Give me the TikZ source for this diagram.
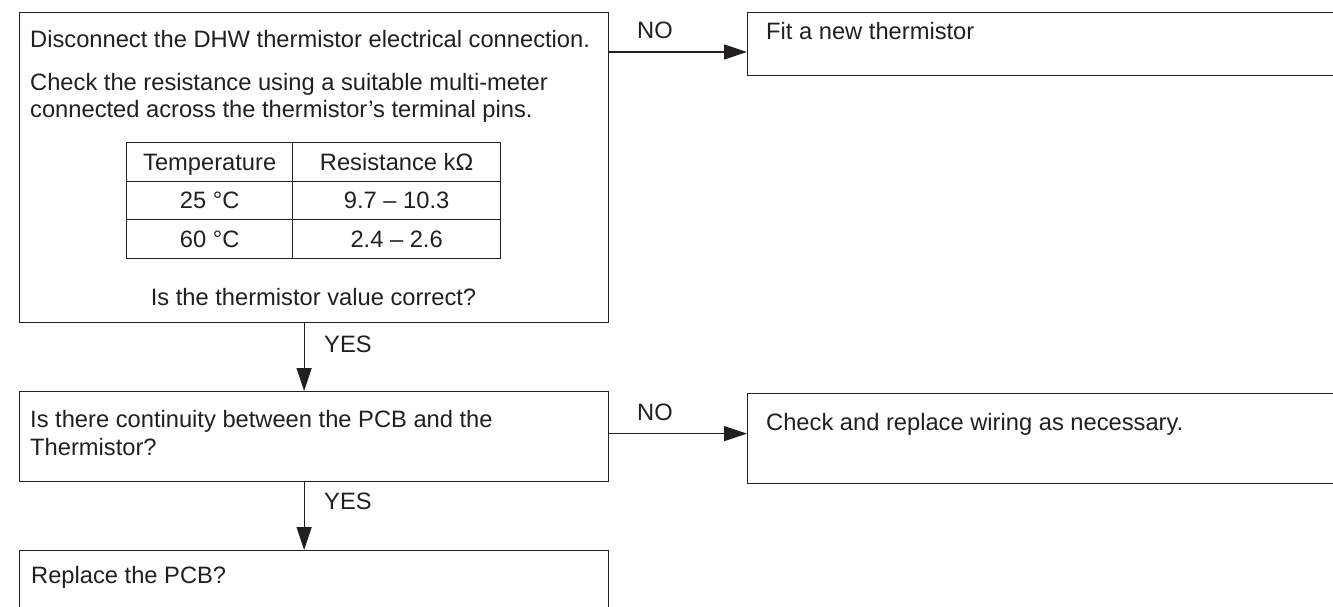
\documentclass[tikz,border=0pt]{standalone}
\usepackage{fontspec}
\setmainfont{Liberation Sans}
\usepackage{xcolor}
\definecolor{ink}{RGB}{35,31,32}
\usetikzlibrary{arrows.meta, positioning, matrix}

\begin{document}
\begin{tikzpicture}[x=1pt, y=-1pt,
    box/.style={rectangle, draw=ink, line width=1.3pt, anchor=north west,
      inner sep=0pt},
    txt/.style={text=ink, font=\fontsize{23.7}{28}\selectfont,
      inner sep=0pt, anchor=base west},
    tag/.style={txt},
    cell/.style={rectangle, draw=ink, line width=1.3pt, text=ink,
      font=\fontsize{23.7}{28}\selectfont, text height=17pt,
      text depth=0pt, minimum height=38.5pt, inner sep=0pt},
    arrow/.style={draw=ink, line width=1.3pt,
      -{Triangle[length=23pt, width=15pt]}}
]
\useasboundingbox (0,0) rectangle (1333,607);
\clip (0,0) rectangle (1333,607);

\node[box, minimum width=589pt, minimum height=310pt] (check) at (19,12) {};
\node[box, minimum width=700pt, minimum height=63pt] (fitnew) at (747,12) {};
\node[box, minimum width=589pt, minimum height=90pt] (cont) at (19,391) {};
\node[box, minimum width=700pt, minimum height=90pt] (wiring) at (747,393) {};
\node[box, minimum width=589pt, minimum height=100pt] (pcb) at (19,550) {};

\node[txt] (disc) at (30,48) {Disconnect the DHW thermistor electrical connection.};
\node[txt, align=left] (meter) at (30,118)
  {Check the resistance using a suitable multi-meter\\connected across the thermistor’s terminal pins.};
\matrix (tbl) [matrix of nodes, anchor=north west, inner sep=0pt, outer sep=0pt,
    column sep=-1.3pt, row sep=-1.3pt, nodes={cell},
    column 1/.style={nodes={minimum width=166pt}},
    column 2/.style={nodes={minimum width=208pt}}] at (126,142) {
  Temperature & Resistance kΩ \\
  25 °C & 9.7 – 10.3 \\
  60 °C & 2.4 – 2.6 \\
};
\node[txt, anchor=base] (ask) at (313.5,305) {Is the thermistor value correct?};
\node[txt] (fit) at (766,40) {Fit a new thermistor};
\node[txt, align=left] (contq) at (30,455)
  {Is there continuity between the PCB and the\\Thermistor?};
\node[txt] (wire) at (766,430) {Check and replace wiring as necessary.};
\node[txt] (repl) at (31,583) {Replace the PCB?};

\node[tag] (no1) at (637,39) {NO};
\node[tag] (yes1) at (324,352) {YES};
\node[tag] (no2) at (637,420) {NO};
\node[tag] (yes2) at (324,509) {YES};

\draw[arrow] ([yshift=-40pt]check.north east) -- ([yshift=-40pt]fitnew.north west);
\draw[arrow] ([xshift=-10pt]check.south) -- ([xshift=-10pt]check.south |- cont.north);
\draw[arrow] ([yshift=3pt]cont.east) -- ([yshift=3pt]cont.east -| wiring.west);
\draw[arrow] ([xshift=-10pt]cont.south) -- ([xshift=-10pt]cont.south |- pcb.north);
\end{tikzpicture}
\end{document}
